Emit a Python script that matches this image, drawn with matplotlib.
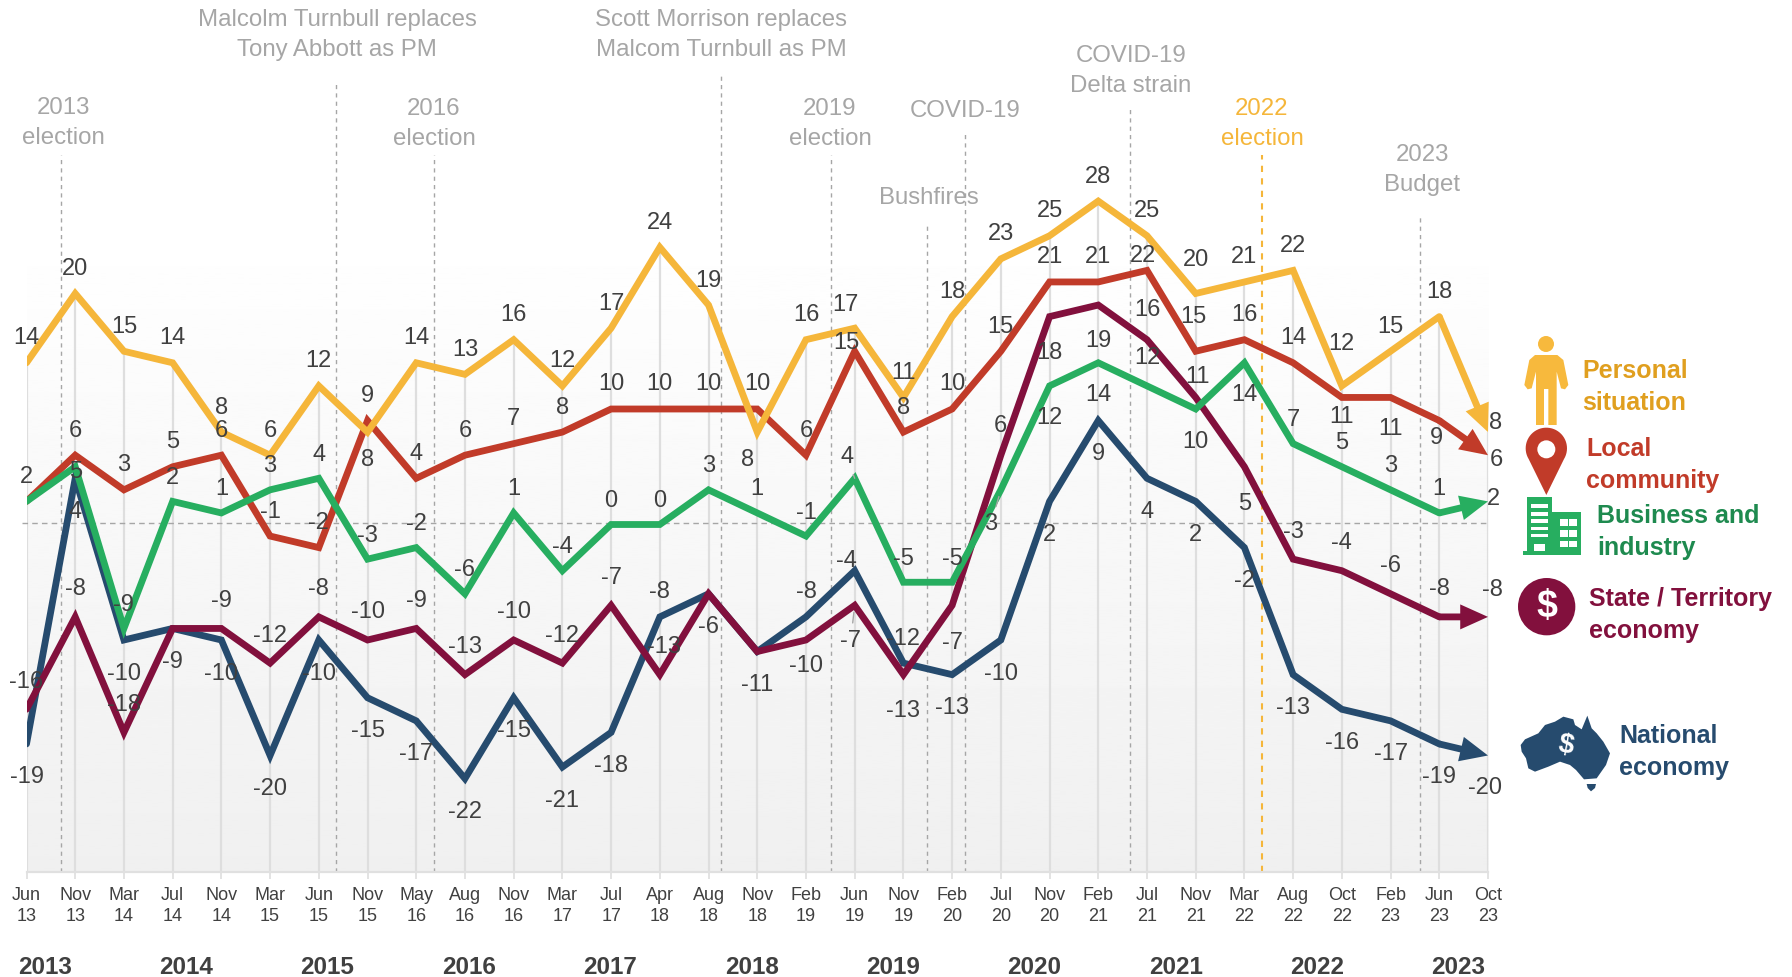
import matplotlib as mpl
mpl.use("Agg")
import matplotlib.pyplot as plt
import numpy as np
from matplotlib.patches import Circle, Polygon, Rectangle

months = ["Jun", "Nov", "Mar", "Jul", "Nov", "Mar", "Jun", "Nov", "May", "Aug", "Nov", "Mar", "Jul", "Apr", "Aug", "Nov",
          "Feb", "Jun", "Nov", "Feb", "Jul", "Nov", "Feb", "Jul", "Nov", "Mar", "Aug", "Oct", "Feb", "Jun", "Oct"]
month_years = ["13", "13", "14", "14", "14", "15", "15", "15", "16", "16", "16", "17", "17", "18", "18", "18",
               "19", "19", "19", "20", "20", "20", "21", "21", "21", "22", "22", "22", "23", "23", "23"]
years = ["2013", "2014", "2015", "2016", "2017", "2018", "2019", "2020", "2021", "2022", "2023"]

personal = [14, 20, 15, 14, 8, 6, 12, 8, 14, 13, 16, 12, 17, 24, 19, 8, 16, 17, 11, 18, 23, 25, 28, 25, 20, 21, 22, 12, 15, 18, 8]
local = [2, 6, 3, 5, 6, -1, -2, 9, 4, 6, 7, 8, 10, 10, 10, 10, 6, 15, 8, 10, 15, 21, 21, 22, 15, 16, 14, 11, 11, 9, 6]
business = [2, 5, -9, 2, 1, 3, 4, -3, -2, -6, 1, -4, 0, 0, 3, 1, -1, 4, -5, -5, 3, 12, 14, 12, 10, 14, 7, 5, 3, 1, 2]
state = [-16, -8, -18, -9, -9, -12, -8, -10, -9, -13, -10, -12, -7, -13, -6, -11, -10, -7, -13, -7, 6, 18, 19, 16, 11, 5, -3, -4, -6, -8, -8]
national = [-19, 4, -10, -9, -10, -20, -10, -15, -17, -22, -15, -21, -18, -8, -6, -11, -8, -4, -12, -13, -10, 2, 9, 4, 2, -2, -13, -16, -17, -19, -20]

event_names = ["2013\nelection", "Malcolm Turnbull replaces\nTony Abbott as PM", "2016\nelection",
               "Scott Morrison replaces\nMalcom Turnbull as PM", "2019\nelection", "Bushfires", "COVID-19",
               "COVID-19\nDelta strain", "2022\nelection", "2023\nBudget"]
event_pos = [0.70, 6.36, 8.37, 14.26, 16.51, 18.48, 19.26, 22.66, 25.36, 28.6]
event_top = [32.0, 38.2, 32.0, 39.0, 32.0, 26.1, 34.0, 36.0, 32.0, 26.8]

W, H = 1792, 977
left, right, zero_y, bottom_y = 26.5, 1488, 524.5, 872
px_per_unit = 11.55

YELLOW = "#F5B63A"
RED = "#C13B29"
GREEN = "#27AE60"
MAROON = "#82103D"
NAVY = "#264B6E"
TEXT = "#404040"
GREY = "#A6A6A6"
LIGHT = "#DEDEDE"

plt.rcParams["font.family"] = ["Liberation Sans", "DejaVu Sans"]

fig = plt.figure(figsize=(W / 100, H / 100), dpi=100)
ax = fig.add_axes([left / W, (H - bottom_y) / H, (right - left) / W, bottom_y / H])
x = np.arange(len(months))
y_low = -(bottom_y - zero_y) / px_per_unit
y_high = zero_y / px_per_unit
ax.patch.set_alpha(0)

grad = np.linspace(1.0, 0.94, 256).reshape(-1, 1)
ax.imshow(grad, extent=[0, 30, y_low, 26], cmap="gray", vmin=0, vmax=1, aspect="auto", zorder=0)
ax.set_xlim(0, len(months) - 1)
ax.set_ylim(y_low, y_high)

all_series = np.array([personal, local, business, state, national])
ax.vlines(x, y_low, all_series.max(axis=0), color=LIGHT, lw=1.6, zorder=1)
ax.plot([-0.1, 30], [0.13, 0.13], color=GREY, lw=1, ls=(0, (4, 3)), zorder=1.5, clip_on=False)

for name, pos, top in zip(event_names, event_pos, event_top):
    c = YELLOW if name.startswith("2022") else GREY
    ax.vlines(pos, y_low, top, color=c, lw=1.5 if c == YELLOW else 1.0, linestyles=(0, (3, 3)), zorder=1.5)

# (series, colour, default label offset, label overrides, hidden labels, leader lines)
series = [
    (national, NAVY, (0, -32), {13: (0, 26), 16: (0, 26), 17: (-8, 11), 18: (0, 26), 30: (-3, -31)}, [], []),
    (state, MAROON, (0, 29), {13: (4, 29), 16: (0, -25), 17: (-4, -34), 18: (0, -35), 19: (0, -36), 20: (0, 31),
                              21: (0, -35), 22: (0, -34), 23: (0, 31), 24: (2, 22), 25: (0, -36), 30: (4, 28)},
     [3, 14, 15], [17]),
    (local, RED, (0, 26), {17: (-8, 10), 23: (-4, 16), 24: (-2, 36), 27: (0, -18), 28: (0, -30), 29: (-3, -16),
                           30: (8, -3)}, [], []),
    (business, GREEN, (0, 25), {1: (0, -4), 17: (-8, 23), 20: (-10, -33), 21: (0, -31), 22: (0, -31), 23: (0, 29),
                                24: (0, -31), 25: (0, -31), 30: (5, 4)}, [0], [17, 20]),
    (personal, YELLOW, (0, 26), {7: (0, -26), 15: (-10, -26), 17: (-9, 25), 24: (0, 35), 27: (0, 43), 30: (8, 11)},
     [], []),
]

lw = 4.9
for k, (vals, color, default, overrides, hidden, leaders) in enumerate(series):
    z = 3 + k
    ax.plot(x[:-1], vals[:-1], color=color, lw=lw, solid_joinstyle="miter", solid_capstyle="round", zorder=z)
    ax.annotate("", xy=(x[-1], vals[-1]), xytext=(x[-2], vals[-2]), annotation_clip=False, zorder=z,
                arrowprops=dict(width=lw, headwidth=18, headlength=20, shrink=0, color=color, lw=0))
    for i, v in enumerate(vals):
        if i in hidden:
            continue
        dx, dy = overrides.get(i, default)
        props = dict(arrowstyle="-", color=GREY, lw=1, shrinkA=3, shrinkB=5) if i in leaders else None
        ax.annotate(str(v), xy=(x[i], v), xytext=(dx, dy + 1), textcoords="offset pixels", ha="center",
                    va="center_baseline", fontsize=17, color=TEXT, zorder=9, annotation_clip=False, arrowprops=props)

ax.set_xticks(x, labels=[m + "\n" + y for m, y in zip(months, month_years)], fontsize=13, color=TEXT, linespacing=1.25)
ax.set_yticks([])
ax.tick_params(axis="x", length=5, width=1.2, color=LIGHT, pad=6)
for s in ["left", "right", "top"]:
    ax.spines[s].set_visible(False)
ax.spines["bottom"].set_color("#E0E0E0")
ax.spines["bottom"].set_linewidth(1.6)

# overlay in picture pixels for the header texts, year row and legend icons
ov = fig.add_axes([0, 0, 1, 1])
ov.set_xlim(0, W)
ov.set_ylim(H, 0)
ov.axis("off")

event_text_xy = [(63, 123), (337, 35), (434, 124), (721, 35), (830, 124), (929, 198), (965, 111), (1131, 71), (1262, 124), (1422, 170)]
for name, (tx, ty) in zip(event_names, event_text_xy):
    c = YELLOW if name.startswith("2022") else GREY
    ov.text(tx, ty, name, ha="center", va="center", fontsize=17.3, color=c, linespacing=1.42)

for i, yr in enumerate(years):
    ov.text(44.6 + 141.4 * i, 968, yr, ha="center", va="center", fontsize=17.5, fontweight="bold", color=TEXT)


def zc(px, py):
    # coordinates
    return 1480 + px / 3, 320 + py / 3


def poly(points, color, z=5):
    ov.add_patch(Polygon([zc(*p) for p in points], closed=True, facecolor=color, edgecolor="none", zorder=z))


def rect(x0, y0, x1, y1, color, z=5):
    a, b = zc(x0, y0)
    c, d = zc(x1, y1)
    ov.add_patch(Rectangle((a, b), c - a, d - b, facecolor=color, edgecolor="none", zorder=z))


def circ(cx, cy, r, color, z=5):
    ov.add_patch(Circle(zc(cx, cy), r / 3, facecolor=color, edgecolor="none", zorder=z))


# person
circ(198, 72, 24, "#F7B93D")
poly([(165, 105), (232, 105), (250, 120), (265, 195), (255, 208), (243, 205), (230, 155), (230, 315), (205, 315),
      (205, 207), (192, 207), (192, 315), (168, 315), (168, 155), (155, 205), (143, 208), (133, 195), (148, 120)], "#F7B93D")

# pin
pin = [(199 + 62 * np.cos(a), 385 - 62 * np.sin(a)) for a in np.linspace(-0.55, np.pi + 0.55, 40)]
poly(pin + [(199, 525)], RED)
circ(199, 388, 27, "white", 6)

# building
rect(142, 532, 217, 695, GREEN)
rect(217, 575, 302, 703, GREEN)
rect(130, 693, 302, 704, GREEN)
for y0, y1 in [(553, 565), (575, 587), (598, 610), (620, 630), (642, 650)]:
    rect(152, y0, 205, y1, "white", 6)
rect(162, 672, 195, 693, "white", 6)
for y0 in [598, 630, 662]:
    for x0 in [240, 268]:
        rect(x0, y0, x0 + 23, y0 + 20, "white", 6)

# state dollar
circ(200, 860, 86, MAROON)
ov.text(*zc(200, 862), "$", ha="center", va="center", color="white", fontsize=27, fontweight="bold", zorder=6)

# Australia
poly([(122, 1275), (135, 1258), (175, 1240), (195, 1215), (225, 1205), (250, 1190), (280, 1198), (285, 1215), (305, 1228),
      (322, 1187), (335, 1225), (350, 1240), (370, 1265), (390, 1300), (378, 1335), (350, 1375), (312, 1378), (288, 1350),
      (270, 1335), (240, 1325), (205, 1340), (165, 1355), (145, 1345), (138, 1315), (125, 1295)], NAVY)
poly([(320, 1392), (348, 1392), (345, 1404), (333, 1414), (323, 1404)], NAVY)
ov.text(*zc(258, 1275), "$", ha="center", va="center", color="white", fontsize=20, fontweight="bold", rotation=-10, zorder=6)

legend_labels = [("Personal\nsituation", 1582, 387, "#E09F1F"), ("Local\ncommunity", 1586, 465, RED),
                 ("Business and\nindustry", 1597, 532, "#1E8A4F"), ("State / Territory\neconomy", 1589, 615, MAROON),
                 ("National\neconomy", 1619, 752, NAVY)]
for label, lx, ly, c in legend_labels:
    ov.text(lx, ly, label, ha="left", va="center", fontsize=18, fontweight="bold", color=c, linespacing=1.42)

plt.savefig("out.png", dpi=100)
